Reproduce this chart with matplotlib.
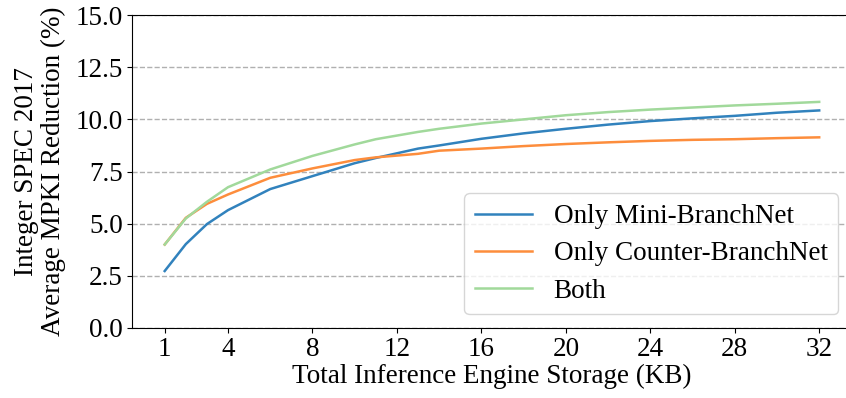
import matplotlib
matplotlib.use("Agg")
import matplotlib.pyplot as plt

plt.rcParams['font.family'] = ['Liberation Serif', 'DejaVu Serif']

# storage in KB
storage = [1, 2, 3, 4, 6, 8, 10, 11, 13, 14, 16, 18, 20, 22, 24, 26, 28, 30, 32]

mini_only = [2.73, 4.02, 4.98, 5.65, 6.66, 7.28, 7.90, 8.15, 8.60, 8.75, 9.07,
             9.33, 9.55, 9.75, 9.92, 10.05, 10.17, 10.32, 10.43]
counter_only = [4.00, 5.28, 5.95, 6.40, 7.20, 7.65, 8.05, 8.18, 8.35, 8.50, 8.60,
                8.72, 8.82, 8.90, 8.97, 9.02, 9.05, 9.10, 9.14]
both = [4.00, 5.25, 6.05, 6.75, 7.60, 8.25, 8.80, 9.05, 9.40, 9.55, 9.80,
        10.00, 10.20, 10.35, 10.47, 10.57, 10.67, 10.75, 10.84]

xticks = [1, 4, 8, 12, 16, 20, 24, 28, 32]
yticks = [0.0, 2.5, 5.0, 7.5, 10.0, 12.5, 15.0]

fs = 19.5

fig = plt.figure(figsize=(8.46, 3.98), dpi=100)
ax = fig.add_axes([0.156, 0.176, 0.851, 0.786])

ax.plot(storage, mini_only, color='#3182bd', lw=1.8, label='Only Mini-BranchNet')
ax.plot(storage, counter_only, color='#fd8d3c', lw=1.8, label='Only Counter-BranchNet')
ax.plot(storage, both, color='#a1d99b', lw=1.8, label='Both')

ax.set_xlim(-0.55, 33.55)
ax.set_ylim(0, 15)
ax.set_xticks(xticks)
ax.set_yticks(yticks)
ax.set_yticklabels(['%.1f' % v for v in yticks])
ax.tick_params(labelsize=fs, pad=3)
ax.yaxis.grid(True, linestyle='--', color='#b0b0b0', lw=1)
ax.set_axisbelow(True)
ax.spines['right'].set_visible(False)

ax.set_xlabel('Total Inference Engine Storage (KB)', fontsize=fs, labelpad=1)
ax.set_ylabel('Integer SPEC 2017\nAverage MPKI Reduction (%)', fontsize=fs,
              linespacing=1.1, labelpad=7)

ax.legend(loc='lower right', fontsize=fs, handlelength=2.1, labelspacing=0.45,
          borderaxespad=0.5)

fig.savefig('out.png', dpi=100)
